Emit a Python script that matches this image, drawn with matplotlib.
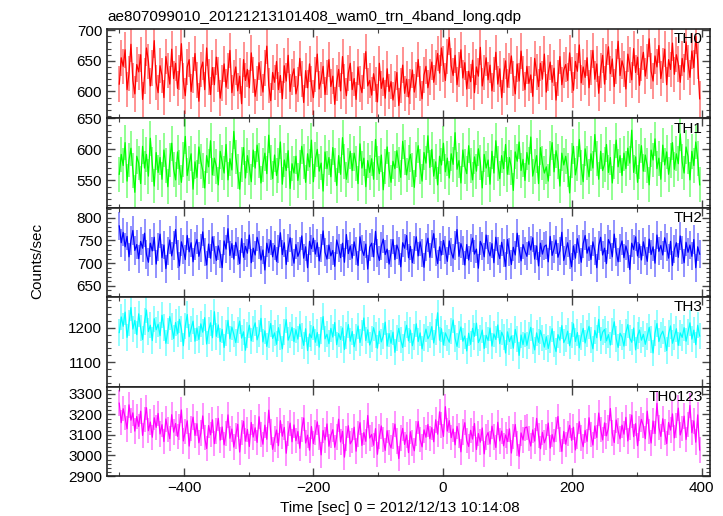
import numpy as np
import matplotlib.pyplot as plt
from matplotlib.ticker import MultipleLocator

plt.rcParams['font.family'] = ['Liberation Sans', 'DejaVu Sans']
plt.rcParams['font.size'] = 11

# bin times (sec from 2012/12/13 10:14:08), one value every 3 s
t = np.arange(-500, 400, 3)

th0 = [612, 655, 641, 668, 603, 629, 677, 618, 596, 644,
       632, 660, 587, 625, 671, 649, 609, 638, 683, 615,
       598, 642, 626, 590, 657, 634, 612, 669, 621, 646,
       605, 631, 678, 617, 593, 640, 652, 600, 627, 662,
       619, 584, 636, 648, 603, 671, 624, 595, 639, 611,
       656, 628, 589, 614, 645, 607, 633, 667, 598, 622,
       640, 601, 625, 580, 652, 618, 636, 606, 663, 627,
       592, 613, 647, 621, 599, 638, 674, 610, 585, 631,
       615, 649, 603, 626, 588, 642, 617, 659, 600, 624,
       637, 596, 611, 654, 620, 582, 634, 606, 645, 612,
       590, 628, 661, 604, 619, 641, 595, 623, 652, 608,
       625, 579, 614, 636, 601, 657, 616, 593, 630, 646,
       603, 621, 587, 640, 612, 598, 633, 665, 609, 618,
       594, 629, 611, 583, 646, 605, 622, 589, 637, 600,
       616, 586, 604, 631, 577, 610, 643, 597, 620, 591,
       608, 635, 599, 619, 652, 613, 588, 627, 641, 606,
       624, 648, 615, 639, 662, 630, 671, 645, 618, 657,
       688, 642, 626, 659, 611, 636, 668, 622, 647, 604,
       633, 616, 651, 598, 640, 625, 672, 609, 631, 655,
       619, 643, 601, 628, 664, 612, 637, 590, 626, 650,
       607, 634, 658, 621, 596, 645, 617, 666, 629, 603,
       641, 613, 627, 592, 654, 632, 608, 646, 620, 661,
       599, 630, 648, 615, 638, 586, 622, 657, 611, 635,
       644, 618, 663, 627, 602, 649, 633, 676, 614, 640,
       623, 655, 606, 639, 667, 620, 645, 597, 634, 659,
       612, 648, 673, 629, 653, 608, 641, 682, 626, 650,
       637, 604, 661, 643, 619, 670, 631, 656, 610, 646,
       664, 625, 649, 686, 633, 617, 658, 640, 675, 621,
       642, 669, 611, 652, 636, 679, 628, 660, 645, 615,
       654, 632, 681, 647, 623, 666, 639, 690, 650, 588]

th1 = [560, 592, 574, 611, 549, 583, 602, 566, 531, 589,
       578, 545, 605, 570, 592, 557, 618, 576, 541, 595,
       563, 587, 552, 599, 574, 540, 583, 610, 568, 551,
       596, 571, 547, 584, 621, 558, 577, 593, 536, 580,
       555, 604, 581, 566, 538, 590, 572, 614, 559, 586,
       573, 543, 597, 579, 562, 608, 551, 585, 567, 629,
       588, 564, 536, 576, 603, 554, 590, 571, 548, 599,
       570, 607, 582, 546, 575, 594, 561, 623, 579, 553,
       591, 558, 574, 612, 544, 583, 566, 598, 537, 577,
       562, 589, 550, 571, 605, 580, 547, 593, 572, 615,
       548, 584, 600, 565, 578, 533, 596, 569, 587, 556,
       603, 575, 542, 590, 560, 619, 581, 552, 574, 597,
       566, 594, 577, 545, 609, 570, 586, 540, 582, 563,
       585, 552, 616, 578, 561, 591, 535, 573, 604, 568,
       547, 581, 569, 598, 576, 555, 613, 587, 559, 579,
       592, 567, 539, 584, 606, 572, 549, 595, 578, 622,
       571, 600, 557, 580, 543, 589, 575, 610, 564, 586,
       554, 593, 576, 627, 568, 582, 546, 599, 573, 561,
       606, 574, 551, 588, 565, 601, 579, 538, 592, 570,
       583, 544, 597, 562, 614, 577, 553, 590, 569, 608,
       560, 587, 571, 534, 596, 581, 612, 566, 584, 550,
       595, 576, 620, 557, 573, 590, 545, 603, 578, 562,
       572, 549, 586, 611, 564, 598, 580, 541, 594, 575,
       589, 567, 530, 582, 605, 559, 577, 616, 571, 548,
       601, 578, 556, 593, 570, 624, 585, 552, 597, 566,
       576, 608, 563, 587, 546, 581, 615, 572, 590, 558,
       594, 569, 602, 578, 631, 563, 588, 547, 580, 606,
       565, 591, 574, 543, 599, 583, 617, 569, 586, 552,
       607, 575, 596, 560, 582, 611, 568, 593, 577, 625,
       580, 562, 604, 589, 551, 597, 574, 612, 585, 543]

th2 = [782, 745, 768, 736, 759, 714, 750, 772, 728, 741,
       710, 748, 733, 766, 719, 702, 744, 727, 757, 698,
       735, 764, 712, 740, 688, 726, 751, 716, 739, 774,
       721, 694, 747, 730, 708, 761, 725, 745, 703, 737,
       752, 715, 734, 769, 724, 696, 742, 711, 758, 729,
       706, 738, 720, 690, 749, 731, 776, 717, 743, 709,
       746, 726, 699, 754, 713, 737, 722, 762, 701, 733,
       718, 757, 740, 707, 729, 685, 744, 723, 750, 714,
       739, 704, 731, 767, 719, 745, 697, 734, 756, 725,
       700, 741, 715, 727, 760, 711, 736, 690, 748, 732,
       755, 720, 745, 705, 733, 771, 724, 709, 740, 716,
       728, 693, 751, 734, 712, 744, 702, 763, 721, 738,
       711, 747, 726, 695, 758, 730, 717, 742, 687, 735,
       744, 714, 770, 723, 706, 738, 753, 719, 731, 698,
       723, 752, 708, 740, 727, 692, 745, 733, 761, 712,
       737, 701, 729, 758, 716, 747, 722, 691, 736, 755,
       713, 742, 765, 724, 699, 736, 718, 750, 729, 704,
       749, 725, 711, 739, 774, 715, 743, 728, 696, 741,
       707, 734, 755, 720, 731, 689, 748, 737, 714, 762,
       730, 716, 743, 701, 757, 726, 710, 746, 723, 693,
       752, 724, 697, 735, 718, 766, 732, 705, 741, 727,
       715, 748, 729, 756, 709, 738, 694, 744, 720, 737,
       740, 703, 759, 717, 732, 751, 713, 727, 768, 706,
       726, 745, 719, 692, 738, 711, 754, 730, 702, 743,
       761, 722, 736, 708, 747, 727, 690, 739, 757, 718,
       733, 699, 752, 741, 714, 764, 725, 703, 734, 749,
       712, 738, 721, 686, 744, 730, 758, 716, 742, 707,
       747, 727, 704, 753, 719, 736, 700, 762, 726, 739,
       718, 756, 735, 711, 748, 695, 731, 745, 713, 760,
       729, 701, 746, 724, 740, 715, 752, 690, 736, 720]

th3 = [1186, 1231, 1204, 1245, 1172, 1213, 1258, 1196, 1221, 1180,
       1240, 1199, 1166, 1218, 1251, 1189, 1207, 1163, 1226, 1194,
       1210, 1177, 1236, 1201, 1155, 1190, 1232, 1203, 1169, 1215,
       1182, 1224, 1196, 1148, 1205, 1238, 1174, 1197, 1219, 1161,
       1199, 1166, 1211, 1187, 1229, 1153, 1192, 1214, 1171, 1246,
       1175, 1208, 1160, 1195, 1143, 1184, 1221, 1168, 1202, 1181,
       1157, 1193, 1219, 1170, 1188, 1135, 1178, 1207, 1162, 1196,
       1214, 1165, 1183, 1227, 1159, 1191, 1146, 1180, 1212, 1169,
       1185, 1152, 1200, 1173, 1139, 1188, 1223, 1164, 1179, 1201,
       1160, 1194, 1167, 1210, 1176, 1149, 1197, 1134, 1182, 1171,
       1203, 1158, 1186, 1144, 1192, 1232, 1168, 1181, 1154, 1198,
       1173, 1215, 1151, 1183, 1166, 1199, 1137, 1177, 1209, 1161,
       1189, 1145, 1172, 1205, 1157, 1184, 1228, 1163, 1194, 1150,
       1167, 1200, 1178, 1141, 1190, 1159, 1176, 1216, 1147, 1183,
       1155, 1187, 1129, 1170, 1198, 1165, 1143, 1181, 1207, 1162,
       1193, 1148, 1174, 1211, 1160, 1185, 1139, 1172, 1196, 1168,
       1179, 1203, 1156, 1188, 1243, 1164, 1197, 1150, 1185, 1171,
       1158, 1191, 1222, 1169, 1146, 1180, 1202, 1161, 1176, 1133,
       1184, 1152, 1198, 1175, 1213, 1157, 1170, 1193, 1140, 1178,
       1163, 1199, 1147, 1182, 1166, 1208, 1154, 1187, 1173, 1127,
       1188, 1160, 1176, 1141, 1195, 1168, 1120, 1179, 1151, 1183,
       1149, 1177, 1201, 1162, 1136, 1185, 1158, 1192, 1170, 1144,
       1174, 1140, 1166, 1197, 1153, 1131, 1180, 1164, 1206, 1157,
       1169, 1190, 1148, 1178, 1211, 1160, 1186, 1142, 1175, 1198,
       1156, 1183, 1204, 1165, 1139, 1192, 1171, 1224, 1163, 1187,
       1195, 1162, 1180, 1150, 1189, 1217, 1168, 1143, 1184, 1173,
       1147, 1186, 1209, 1170, 1158, 1199, 1136, 1177, 1193, 1164,
       1181, 1152, 1175, 1201, 1166, 1127, 1184, 1212, 1160, 1179,
       1190, 1168, 1134, 1183, 1205, 1155, 1174, 1197, 1149, 1185,
       1172, 1200, 1161, 1188, 1214, 1167, 1193, 1151, 1207, 1176]

th0123 = [3255, 3160, 3228, 3185, 3130, 3247, 3172, 3208, 3119, 3190,
          3142, 3216, 3098, 3175, 3233, 3121, 3163, 3089, 3184, 3137,
          3205, 3105, 3150, 3068, 3178, 3126, 3082, 3199, 3114, 3156,
          3093, 3140, 3222, 3071, 3118, 3169, 3046, 3133, 3187, 3098,
          3155, 3062, 3110, 3193, 3087, 3034, 3146, 3101, 3174, 3058,
          3120, 3181, 3075, 3139, 3052, 3108, 3198, 3084, 3129, 3041,
          3096, 3152, 3017, 3113, 3167, 3070, 3127, 3044, 3161, 3090,
          3135, 3064, 3189, 3102, 3055, 3148, 3079, 3221, 3115, 3030,
          3081, 3124, 3048, 3170, 3094, 3137, 3011, 3106, 3158, 3067,
          3149, 3072, 3117, 3035, 3128, 3183, 3061, 3099, 3026, 3141,
          3058, 3111, 3164, 3088, 3003, 3122, 3076, 3154, 3045, 3097,
          3126, 3040, 3091, 3177, 3066, 3118, 2992, 3083, 3145, 3057,
          3074, 3138, 3021, 3105, 3160, 3049, 3112, 3069, 3195, 3085,
          3103, 3050, 3131, 3006, 3092, 3144, 3078, 3025, 3121, 3063,
          3037, 3095, 3153, 3071, 2985, 3086, 3132, 3054, 3100, 3014,
          3116, 3060, 3023, 3108, 3166, 3077, 3042, 3125, 3089, 3151,
          3082, 3136, 3067, 3174, 3104, 3213, 3148, 3093, 3238, 3119,
          3170, 3087, 3129, 3052, 3142, 3098, 3018, 3115, 3160, 3073,
          3044, 3123, 3080, 3156, 3029, 3107, 3065, 3134, 3008, 3090,
          3112, 3056, 3143, 3091, 3039, 3162, 3071, 3119, 3047, 3100,
          3068, 3130, 3012, 3094, 3151, 3059, 2996, 3110, 3076, 3135,
          3139, 3083, 3046, 3125, 3070, 3181, 3097, 3033, 3113, 3062,
          3091, 3158, 3036, 3102, 3066, 3127, 3190, 3079, 3020, 3117,
          3055, 3106, 3147, 3074, 3138, 3027, 3095, 3165, 3085, 3043,
          3122, 3069, 3184, 3101, 3051, 3144, 3088, 3207, 3128, 3076,
          3159, 3096, 3134, 3229, 3109, 3063, 3173, 3120, 3081, 3148,
          3104, 3186, 3071, 3140, 3197, 3092, 3155, 3048, 3131, 3176,
          3145, 3082, 3216, 3118, 3061, 3168, 3107, 3254, 3137, 3093,
          3179, 3115, 3058, 3161, 3124, 3203, 3086, 3147, 3231, 3100,
          3133, 3192, 3078, 3150, 3244, 3111, 3169, 3065, 3198, 3027]

# typical 1-sigma error bar per band (counts/sec)
errs = [29, 28, 31, 38, 62]

names = ['TH0', 'TH1', 'TH2', 'TH3', 'TH0123']
series = [th0, th1, th2, th3, th0123]
colors = ['#ff0000', '#00ff00', '#0000ff', '#00ffff', '#ff00ff']
ylims = [(556, 702), (506, 650), (625, 822), (1030, 1288), (2900, 3336)]
majors = [50, 50, 50, 100, 100]
minors = [10, 10, 10, 20, 20]

fig = plt.figure(figsize=(7.23, 5.16), dpi=100)
left, right, top, bottom = 107/723, 710/723, 1 - 29/516, 1 - 476/516
h = (top - bottom) / 5

for i in range(5):
    ax = fig.add_axes([left, top - (i + 1) * h, right - left, h])
    ax.errorbar(t, series[i], yerr=errs[i], fmt='none', ecolor=colors[i],
                alpha=0.5, elinewidth=1.2)
    ax.plot(t, series[i], color=colors[i], lw=0.9)
    ax.set_xlim(-519, 413)
    ax.set_ylim(*ylims[i])
    ax.xaxis.set_major_locator(MultipleLocator(200))
    ax.xaxis.set_minor_locator(MultipleLocator(100))
    ax.yaxis.set_major_locator(MultipleLocator(majors[i]))
    ax.yaxis.set_minor_locator(MultipleLocator(minors[i]))
    ax.tick_params(which='both', direction='in', top=True, right=True,
                   color='#444444', labelsize=11)
    ax.tick_params(which='major', length=6, width=1)
    ax.tick_params(which='minor', length=3, width=0.8)
    for s in ax.spines.values():
        s.set_linewidth(1.2)
        s.set_color('#222222')
    if i < 4:
        ax.tick_params(labelbottom=False)
    ax.text(0.988, 0.965, names[i], transform=ax.transAxes, ha='right',
            va='top', fontsize=11)

fig.text(107/723, 1 - 21/516, 'ae807099010_20121213101408_wam0_trn_4band_long.qdp',
         ha='left', va='baseline', fontsize=11)
fig.text(37/723, 0.494, 'Counts/sec', rotation=90, ha='center', va='center',
         fontsize=11)
fig.text(400/723, 1 - 512/516, 'Time [sec] 0 = 2012/12/13 10:14:08',
         ha='center', va='baseline', fontsize=11)

fig.savefig('out.png', dpi=100)
